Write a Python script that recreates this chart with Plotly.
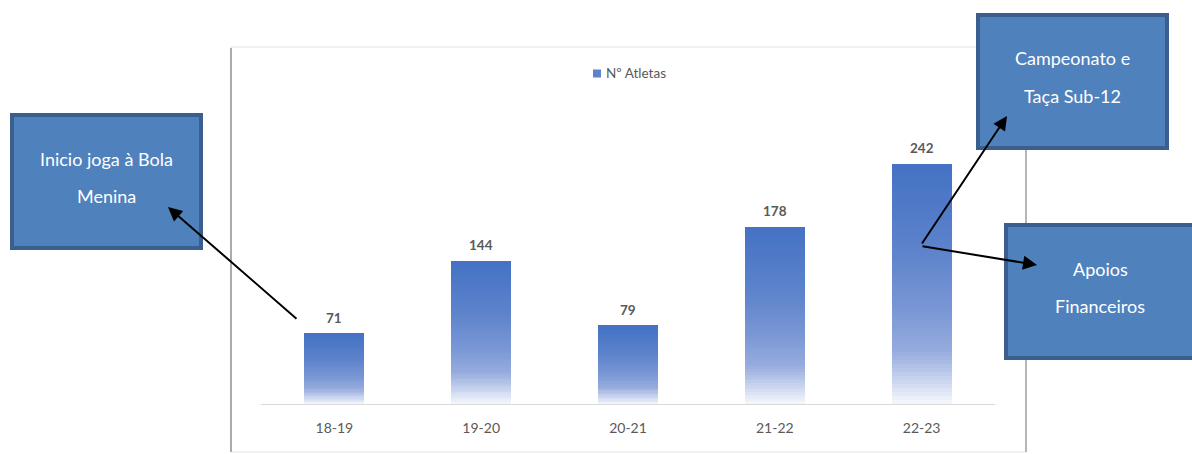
import plotly.graph_objects as go

# ---- data ----
categories = ["18-19", "19-20", "20-21", "21-22", "22-23"]
atletas = [71, 144, 79, 178, 242]
series_name = "Nº Atletas"

box_left_lines = ["Inicio joga à Bola", "Menina"]
box_top_lines = ["Campeonato e", "Taça Sub-12"]
box_bottom_lines = ["Apoios", "Financeiros"]

# ---- layout geometry (pixels) ----
W, H = 1192, 454
L, R, T, B = 261, 1192 - 995, 100, 50
PW, PH = W - L - R, H - T - B
PX_PER_UNIT = 0.992
YMAX = PH / PX_PER_UNIT

def px(x):
    return (x - L) / PW

def py(y):
    return (H - B - y) / PH

FONT = "Lato, 'Open Sans', sans-serif"

# gradient stops: t from top(0) to bottom(1)
stops = [(0.0, (68, 114, 196)), (0.35, (92, 130, 203)), (0.6, (120, 150, 212)),
         (0.78, (150, 172, 222)), (0.9, (200, 212, 238)), (1.0, (246, 248, 252))]

def grad(t):
    for (t0, c0), (t1, c1) in zip(stops[:-1], stops[1:]):
        if t0 <= t <= t1:
            f = (t - t0) / (t1 - t0) if t1 > t0 else 0
            c = [round(a + (b - a) * f) for a, b in zip(c0, c1)]
            return "rgb(%d,%d,%d)" % tuple(c)
    return "rgb(%d,%d,%d)" % stops[-1][1]

fig = go.Figure()
N = 60
for k in range(N):
    t = 1 - (k + 0.5) / N  # k=0 bottom
    fig.add_trace(go.Bar(
        x=categories, y=[v / N for v in atletas], width=0.41,
        marker=dict(color=grad(t), line=dict(width=0)),
        showlegend=False, hoverinfo="skip"))

# value labels
for c, v in zip(categories, atletas):
    fig.add_annotation(x=c, y=v, xref="x", yref="y", text="<b>%d</b>" % v,
                       showarrow=False, yanchor="bottom", yshift=6,
                       font=dict(family=FONT, size=13.5, color="#595959"))

shapes = []
# chart panel
shapes.append(dict(type="rect", xref="paper", yref="paper",
                   x0=px(231), x1=px(1026), y0=py(452), y1=py(47),
                   line=dict(color="#e3e3e3", width=1), fillcolor="white", layer="below"))
shapes.append(dict(type="line", xref="paper", yref="paper",
                   x0=px(231), x1=px(231), y0=py(452), y1=py(48),
                   line=dict(color="#ababab", width=2), layer="below"))
shapes.append(dict(type="line", xref="paper", yref="paper",
                   x0=px(1026), x1=px(1026), y0=py(452), y1=py(48),
                   line=dict(color="#b5b5b5", width=2), layer="below"))

# legend (marker square + label)
shapes.append(dict(type="rect", xref="paper", yref="paper",
                   x0=px(593), x1=px(601), y0=py(77.5), y1=py(69.5),
                   line=dict(width=0), fillcolor="#5b83cc", layer="above"))
fig.add_annotation(x=px(604), y=py(73.5), xref="paper", yref="paper", text=series_name,
                   showarrow=False, xanchor="left", yanchor="middle",
                   font=dict(family=FONT, size=13.5, color="#595959"))

# boxes
def box(x0, y0, x1, y1):
    shapes.append(dict(type="rect", xref="paper", yref="paper",
                       x0=px(x0 + 2), x1=px(x1 - 2), y0=py(y1 - 2), y1=py(y0 + 2),
                       line=dict(color="#3a5f8e", width=4), fillcolor="#4f81bd",
                       layer="above"))

box(10, 113, 203, 250)
box(976, 13, 1169, 150)
box(1004, 223, 1196, 360)
fig.update_layout(shapes=shapes)

def box_text(lines, cx, cy0, dy=37):
    for i, txt in enumerate(lines):
        fig.add_annotation(x=px(cx), y=py(cy0 + i * dy), xref="paper", yref="paper",
                           text=txt, showarrow=False, xanchor="center", yanchor="middle",
                           font=dict(family=FONT, size=18, color="white"))

box_text(box_left_lines, 106, 158.5)
box_text(box_top_lines, 1072, 58.5)
box_text(box_bottom_lines, 1100, 268.5)

def arrow(tx, ty, sx, sy):
    fig.add_annotation(x=px(tx), y=py(ty), xref="paper", yref="paper", text="",
                       showarrow=True, ax=sx - tx, ay=sy - ty, axref="pixel", ayref="pixel",
                       arrowhead=2, arrowsize=1.4, arrowwidth=2, arrowcolor="black",
                       standoff=0)

arrow(168, 207, 298, 320)
arrow(1007, 116, 921, 245)
arrow(1037, 265, 921, 246)

fig.update_layout(
    width=W, height=H,
    margin=dict(l=L, r=R, t=T, b=B, pad=0),
    paper_bgcolor="white", plot_bgcolor="rgba(0,0,0,0)",
    barmode="stack", bargap=0,
    showlegend=False,
    xaxis=dict(type="category", range=[-0.5, 4.5], showline=True, linecolor="#d9d9d9",
               linewidth=1, showgrid=False, zeroline=False, ticks="",
               tickfont=dict(family=FONT, size=14, color="#595959"),
               ticklabelstandoff=11, fixedrange=True),
    yaxis=dict(range=[0, YMAX], visible=False, showgrid=False, zeroline=False,
               fixedrange=True),
)

fig.write_html("out.html")
